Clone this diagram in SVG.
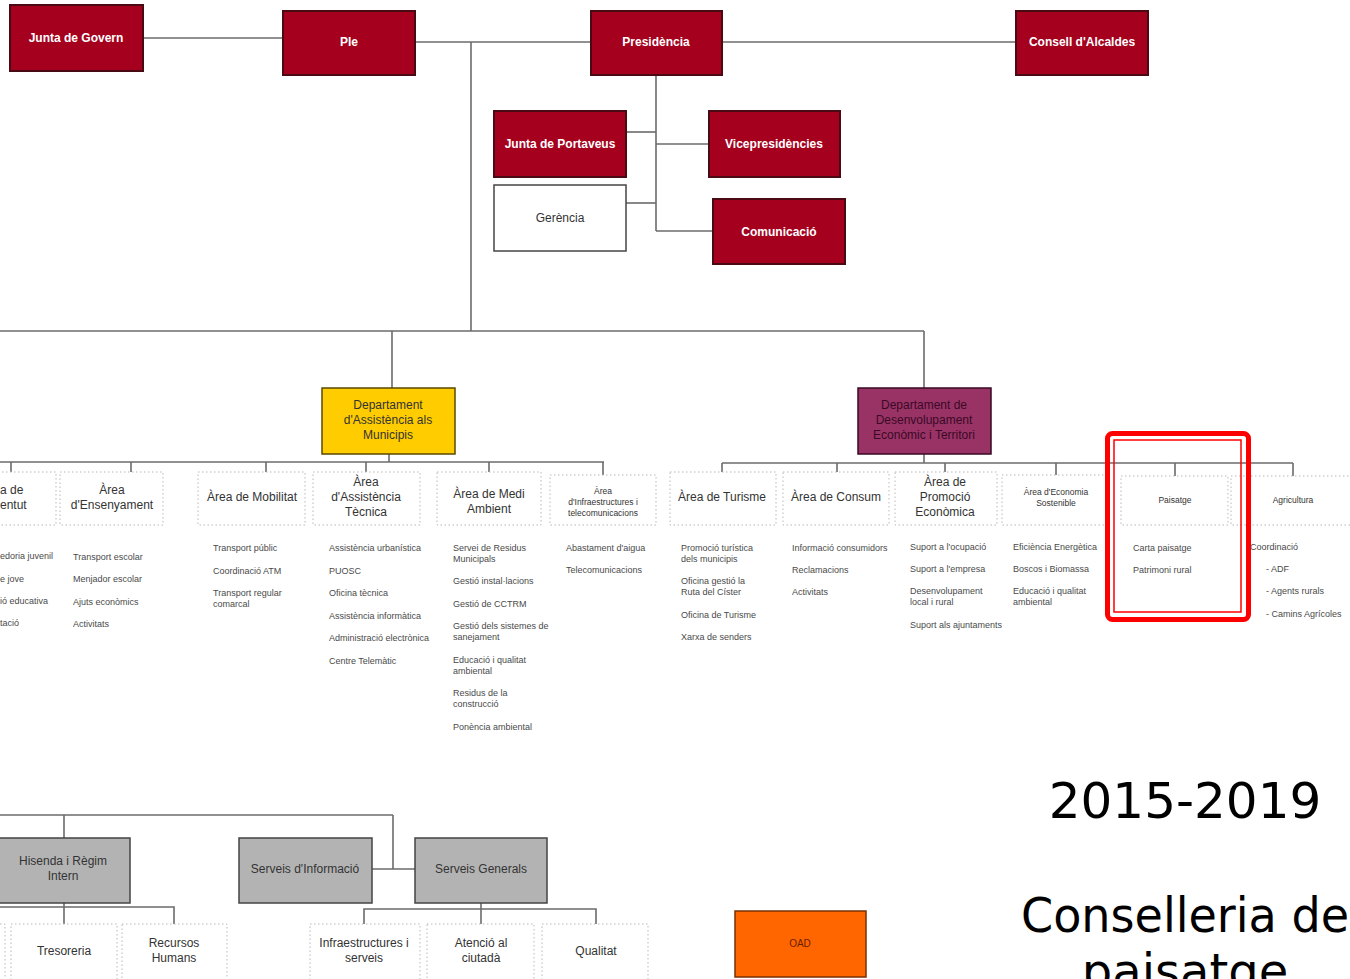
<svg xmlns="http://www.w3.org/2000/svg" width="1350" height="979" viewBox="0 0 1350 979">
<style>
.bg{fill:#fff}
.red{fill:#A5001E;stroke:#4a0a14;stroke-width:2}
.rt{font-family:'Liberation Sans',Arial,sans-serif;font-weight:bold;font-size:12px;fill:#fff;text-anchor:middle}
.ln{stroke:#6b6b6b;stroke-width:1.6;fill:none}
.dot{fill:#fff;stroke:#b8b8b8;stroke-width:1;stroke-dasharray:1.5 2.5}
.at{font-family:'Liberation Sans',Arial,sans-serif;font-size:12px;fill:#333;text-anchor:middle}
.as{font-size:8.5px}
.it{font-family:'Liberation Sans',Arial,sans-serif;font-size:9px;fill:#4a4a4a}
.gray{fill:#B3B3B3;stroke:#444;stroke-width:1.5}
.dt{font-family:'Liberation Sans',Arial,sans-serif;font-size:12px;fill:#333;text-anchor:middle}
.big{font-family:'DejaVu Sans',sans-serif;fill:#000;text-anchor:middle}
</style>
<rect class="bg" x="0" y="0" width="1350" height="979"/>

<g id="connectors">
  <path class="ln" d="M143 38H283"/>
  <path class="ln" d="M415 42H1016"/>
  <path class="ln" d="M471 42V331"/>
  <path class="ln" d="M0 331H924"/>
  <path class="ln" d="M392 331V388"/>
  <path class="ln" d="M924 331V388"/>
  <path class="ln" d="M656 75V231"/>
  <path class="ln" d="M626 132H656"/>
  <path class="ln" d="M656 144H709"/>
  <path class="ln" d="M626 203H656"/>
  <path class="ln" d="M656 231H713"/>
  <path class="ln" d="M389 454V462"/>
  <path class="ln" d="M0 462H604"/>
  <path class="ln" d="M11 462V474M131 462V480M266 462V474M366 462V478M489 462V474M603 462V476"/>
  <path class="ln" d="M924 454V463"/>
  <path class="ln" d="M722 463H1293"/>
  <path class="ln" d="M722 463V474M837 463V474M945 463V476M1056 463V476M1175 463V478M1293 463V478"/>
  <path class="ln" d="M0 815H393"/>
  <path class="ln" d="M64 815V838"/>
  <path class="ln" d="M393 815V869"/>
  <path class="ln" d="M371 869H415"/>
  <path class="ln" d="M64 903V926"/>
  <path class="ln" d="M0 907H174V926"/>
  <path class="ln" d="M481 903V924"/>
  <path class="ln" d="M364 924V909H596V924"/>
</g>

<g id="junta-govern"><rect class="red" x="10" y="5" width="133" height="66"/><text class="rt" x="76" y="42">Junta de Govern</text></g>
<g id="ple"><rect class="red" x="283" y="11" width="132" height="64"/><text class="rt" x="349" y="46">Ple</text></g>
<g id="presidencia"><rect class="red" x="591" y="11" width="131" height="64"/><text class="rt" x="656" y="46">Presidència</text></g>
<g id="consell-alcaldes"><rect class="red" x="1016" y="11" width="132" height="64"/><text class="rt" x="1082" y="46">Consell d'Alcaldes</text></g>
<g id="junta-portaveus"><rect class="red" x="494" y="111" width="132" height="66"/><text class="rt" x="560" y="148">Junta de Portaveus</text></g>
<g id="vicepresidencies"><rect class="red" x="709" y="111" width="131" height="66"/><text class="rt" x="774" y="148">Vicepresidències</text></g>
<g id="gerencia"><rect x="494" y="185" width="132" height="66" fill="#fff" stroke="#444" stroke-width="1.5"/><text class="dt" x="560" y="222">Gerència</text></g>
<g id="comunicacio"><rect class="red" x="713" y="199" width="132" height="65"/><text class="rt" x="779" y="236">Comunicació</text></g>

<g id="dept-assistencia"><rect x="322" y="388" width="133" height="66" fill="#FFCC00" stroke="#5a4a00" stroke-width="1.5"/>
  <text class="dt" x="388" y="409">Departament</text><text class="dt" x="388" y="424">d'Assistència als</text><text class="dt" x="388" y="439">Municipis</text></g>
<g id="dept-desenvolupament"><rect x="858" y="388" width="133" height="66" fill="#993366" stroke="#3a0a25" stroke-width="1.5"/>
  <text class="dt" x="924" y="409" fill="#3a0a25" style="fill:#3a0a25">Departament de</text><text class="dt" x="924" y="424" style="fill:#3a0a25">Desenvolupament</text><text class="dt" x="924" y="439" style="fill:#3a0a25">Econòmic i Territori</text></g>

<g id="area-joventut"><rect class="dot" x="-50" y="472" width="106" height="53"/>
  <text class="at" x="0" y="494" style="text-anchor:start">a de</text><text class="at" x="0" y="509" style="text-anchor:start">entut</text>
  <text class="it" x="0" y="559">edoria juvenil</text><text class="it" x="0" y="582">e jove</text><text class="it" x="0" y="604">ió educativa</text><text class="it" x="0" y="626">tació</text></g>
<g id="area-ensenyament"><rect class="dot" x="60" y="472" width="103" height="53"/>
  <text class="at" x="112" y="494">Àrea</text><text class="at" x="112" y="509">d'Ensenyament</text>
  <text class="it" x="73" y="560">Transport escolar</text><text class="it" x="73" y="582">Menjador escolar</text><text class="it" x="73" y="605">Ajuts econòmics</text><text class="it" x="73" y="627">Activitats</text></g>
<g id="area-mobilitat"><rect class="dot" x="198" y="472" width="107" height="53"/>
  <text class="at" x="252" y="501">Àrea de Mobilitat</text>
  <text class="it" x="213" y="551">Transport públic</text><text class="it" x="213" y="574">Coordinació ATM</text><text class="it" x="213" y="596">Transport regular</text><text class="it" x="213" y="607">comarcal</text></g>
<g id="area-assistencia-tecnica"><rect class="dot" x="313" y="472" width="107" height="53"/>
  <text class="at" x="366" y="486">Àrea</text><text class="at" x="366" y="501">d'Assistència</text><text class="at" x="366" y="516">Tècnica</text>
  <text class="it" x="329" y="551">Assistència urbanística</text><text class="it" x="329" y="574">PUOSC</text><text class="it" x="329" y="596">Oficina tècnica</text><text class="it" x="329" y="619">Assistència informàtica</text><text class="it" x="329" y="641">Administració electrònica</text><text class="it" x="329" y="664">Centre Telemàtic</text></g>
<g id="area-medi-ambient"><rect class="dot" x="437" y="472" width="104" height="53"/>
  <text class="at" x="489" y="498">Àrea de Medi</text><text class="at" x="489" y="513">Ambient</text>
  <text class="it" x="453" y="551">Servei de Residus</text><text class="it" x="453" y="562">Municipals</text><text class="it" x="453" y="584">Gestió instal·lacions</text><text class="it" x="453" y="607">Gestió de CCTRM</text><text class="it" x="453" y="629">Gestió dels sistemes  de</text><text class="it" x="453" y="640">sanejament</text><text class="it" x="453" y="663">Educació i qualitat</text><text class="it" x="453" y="674">ambiental</text><text class="it" x="453" y="696">Residus de la</text><text class="it" x="453" y="707">construcció</text><text class="it" x="453" y="730">Ponència ambiental</text></g>
<g id="area-infraestructures"><rect class="dot" x="550" y="475" width="106" height="50"/>
  <text class="at as" x="603" y="494">Àrea</text><text class="at as" x="603" y="505">d'Infraestructures i</text><text class="at as" x="603" y="516">telecomunicacions</text>
  <text class="it" x="566" y="551">Abastament d'aigua</text><text class="it" x="566" y="573">Telecomunicacions</text></g>

<g id="area-turisme"><rect class="dot" x="670" y="472" width="106" height="53"/>
  <text class="at" x="722" y="501">Àrea de Turisme</text>
  <text class="it" x="681" y="551">Promoció turística</text><text class="it" x="681" y="562">dels municipis</text><text class="it" x="681" y="584">Oficina gestió la</text><text class="it" x="681" y="595">Ruta del Císter</text><text class="it" x="681" y="618">Oficina de Turisme</text><text class="it" x="681" y="640">Xarxa de senders</text></g>
<g id="area-consum"><rect class="dot" x="783" y="472" width="106" height="53"/>
  <text class="at" x="836" y="501">Àrea de Consum</text>
  <text class="it" x="792" y="551">Informació consumidors</text><text class="it" x="792" y="573">Reclamacions</text><text class="it" x="792" y="595">Activitats</text></g>
<g id="area-promocio"><rect class="dot" x="895" y="472" width="102" height="53"/>
  <text class="at" x="945" y="486">Àrea de</text><text class="at" x="945" y="501">Promoció</text><text class="at" x="945" y="516">Econòmica</text>
  <text class="it" x="910" y="550">Suport a l'ocupació</text><text class="it" x="910" y="572">Suport a l'empresa</text><text class="it" x="910" y="594">Desenvolupament</text><text class="it" x="910" y="605">local i rural</text><text class="it" x="910" y="628">Suport als ajuntaments</text></g>
<g id="area-economia"><rect class="dot" x="1002" y="475" width="106" height="50"/>
  <text class="at as" x="1056" y="495">Àrea d'Economia</text><text class="at as" x="1056" y="506">Sostenible</text>
  <text class="it" x="1013" y="550">Eficiència Energètica</text><text class="it" x="1013" y="572">Boscos i Biomassa</text><text class="it" x="1013" y="594">Educació i qualitat</text><text class="it" x="1013" y="605">ambiental</text></g>
<g id="area-paisatge"><rect class="dot" x="1121" y="476" width="107" height="49"/>
  <text class="at as" x="1175" y="503">Paisatge</text>
  <text class="it" x="1133" y="551">Carta paisatge</text><text class="it" x="1133" y="573">Patrimoni rural</text></g>
<g id="area-agricultura"><rect class="dot" x="1231" y="476" width="125" height="49"/>
  <text class="at as" x="1293" y="503">Agricultura</text>
  <text class="it" x="1250" y="550">Coordinació</text><text class="it" x="1266" y="572">- ADF</text><text class="it" x="1266" y="594">- Agents rurals</text><text class="it" x="1266" y="617">- Camins Agrícoles</text></g>

<g id="highlight">
  <rect x="1107.5" y="433.5" width="141" height="186" rx="5" fill="none" stroke="#ff0000" stroke-width="5"/>
  <rect x="1114" y="440" width="127" height="172" fill="none" stroke="#ff0000" stroke-width="1.5"/>
</g>

<g id="hisenda"><rect class="gray" x="-5" y="838" width="135" height="65"/><text class="dt" x="63" y="865">Hisenda i Règim</text><text class="dt" x="63" y="880">Intern</text></g>
<g id="serveis-informacio"><rect class="gray" x="239" y="838" width="133" height="65"/><text class="dt" x="305" y="873">Serveis d'Informació</text></g>
<g id="serveis-generals"><rect class="gray" x="415" y="838" width="132" height="65"/><text class="dt" x="481" y="873">Serveis Generals</text></g>
<g id="box-left"><rect class="dot" x="-100" y="924" width="105" height="60"/></g>
<g id="tresoreria"><rect class="dot" x="11" y="924" width="106" height="60"/><text class="dt" x="64" y="955">Tresoreria</text></g>
<g id="recursos-humans"><rect class="dot" x="122" y="924" width="105" height="60"/><text class="dt" x="174" y="947">Recursos</text><text class="dt" x="174" y="962">Humans</text></g>
<g id="infraestructures-serveis"><rect class="dot" x="310" y="924" width="110" height="60"/><text class="dt" x="364" y="947">Infraestructures i</text><text class="dt" x="364" y="962">serveis</text></g>
<g id="atencio"><rect class="dot" x="427" y="924" width="107" height="60"/><text class="dt" x="481" y="947">Atenció al</text><text class="dt" x="481" y="962">ciutadà</text></g>
<g id="qualitat"><rect class="dot" x="542" y="924" width="106" height="60"/><text class="dt" x="596" y="955">Qualitat</text></g>
<g id="oad"><rect x="735" y="911" width="131" height="66" fill="#FF6600" stroke="#7a3000" stroke-width="1.5"/><text class="dt" x="800" y="947" style="font-size:10px;fill:#6a2000">OAD</text></g>

<g id="title">
  <text class="big" x="1185" y="818" font-size="50">2015-2019</text>
  <text class="big" x="1185" y="932" font-size="48" textLength="328" lengthAdjust="spacingAndGlyphs">Conselleria de</text>
  <text class="big" x="1185" y="988" font-size="48">paisatge</text>
</g>
</svg>
